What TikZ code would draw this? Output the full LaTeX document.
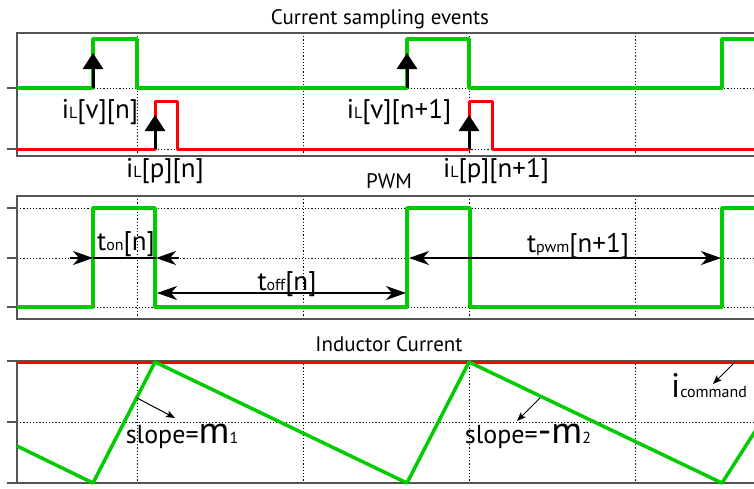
\documentclass[tikz,border=0pt]{standalone}
\usepackage{fontspec}
\setmainfont{PT Sans}
\usetikzlibrary{arrows.meta}
\definecolor{sigG}{RGB}{0,204,0}
\definecolor{sigR}{RGB}{255,0,0}
\definecolor{frameC}{RGB}{85,85,85}
\tikzset{
  frame/.style={draw=frameC, line width=1.2pt},
  tick/.style={draw=frameC, line width=1.2pt},
  gridln/.style={black, line width=0.8pt, dash pattern=on 1.2pt off 2pt},
  gsig/.style={sigG, line width=3.5pt, line join=round},
  rsig/.style={sigR, line width=3pt, line join=round},
  samp/.style={black, line width=3pt, -{Triangle[length=16pt,width=20pt]}},
  dimarr/.style={black, line width=1.2pt, -{Stealth[length=20pt,width=14pt,inset=6pt]}},
  dimboth/.style={black, line width=1.2pt, {Stealth[length=20pt,width=14pt,inset=6pt]}-{Stealth[length=20pt,width=14pt,inset=6pt]}},
  thinarr/.style={black, line width=1pt, -{Stealth[length=9pt,width=7pt,inset=2pt]}},
  ttl/.style={font=\fontsize{21}{21}\selectfont, anchor=base, inner sep=0pt},
  lbl/.style={font=\fontsize{27}{27}\selectfont, anchor=base, inner sep=0pt},
}
\newcommand{\smtxt}[1]{{\fontsize{16}{16}\selectfont #1}}
\newcommand{\bigtxt}[1]{{\fontsize{38}{38}\selectfont #1}}
\begin{document}
\begin{tikzpicture}[x=1pt,y=-1pt]
\clip (0,0) rectangle (754,488);
\fill[white] (0,0) rectangle (754,488);

% ---------- Panel 1 ----------
\node[ttl] (t1) at (380,24) {Current sampling events};
\foreach \x in {137,303,469,635} \draw[gridln] (\x,33) -- (\x,156);
\foreach \y in {88,149} {\draw[gridln] (17,\y) -- (770,\y); \draw[tick] (7,\y) -- (17,\y);}
\draw[frame] (17,33) rectangle (770,156);
\draw[gsig] (17,88) -- (93,88) -- (93,39) -- (137,39) -- (137,88) -- (407,88) -- (407,39) -- (469,39) -- (469,88) -- (722,88) -- (722,39) -- (770,39);
\draw[rsig] (17,149) -- (155,149) -- (155,101) -- (177,101) -- (177,149) -- (469,149) -- (469,101) -- (492,101) -- (492,149) -- (770,149);
\coordinate (s1a) at (93,88);  \coordinate (s1b) at (93,53);
\coordinate (s2a) at (155,149); \coordinate (s2b) at (155,115);
\coordinate (s3a) at (407,88); \coordinate (s3b) at (407,53);
\coordinate (s4a) at (469,149); \coordinate (s4b) at (469,115);
\draw[samp] (s1a) -- (s1b);
\draw[samp] (s2a) -- (s2b);
\draw[samp] (s3a) -- (s3b);
\draw[samp] (s4a) -- (s4b);
\node[lbl] (l1) at (100,118) {i\smtxt{L}[v][n]};
\node[lbl] (l2) at (399,118) {i\smtxt{L}[v][n+1]};
\node[lbl] (l3) at (165,177) {i\smtxt{L}[p][n]};
\node[lbl] (l4) at (496,177) {i\smtxt{L}[p][n+1]};

% ---------- Panel 2 ----------
\node[ttl] (t2) at (389,188) {PWM};
\foreach \x in {137,303,469,635} \draw[gridln] (\x,196) -- (\x,319);
\foreach \y in {208,258,307} {\draw[gridln] (17,\y) -- (770,\y); \draw[tick] (7,\y) -- (17,\y);}
\draw[frame] (17,196) rectangle (770,319);
\draw[gsig] (17,307) -- (93,307) -- (93,208) -- (155,208) -- (155,307) -- (407,307) -- (407,208) -- (470,208) -- (470,307) -- (722,307) -- (722,208) -- (770,208);
\coordinate (on0) at (70,258); \coordinate (on1) at (93,258);
\coordinate (on2) at (156,258); \coordinate (on3) at (179,258);
\draw[black, line width=1.2pt] (on1) -- (on2);
\draw[dimarr] (on0) -- (on1);
\draw[dimarr] (on3) -- (on2);
\coordinate (of1) at (157,293); \coordinate (of2) at (406,293);
\draw[dimboth] (of1) -- (of2);
\coordinate (pw1) at (409,258); \coordinate (pw2) at (721,258);
\draw[dimboth] (pw1) -- (pw2);
\node[lbl] (l5) at (126,250) {t\smtxt{on}[n]};
\node[lbl] (l6) at (287,290) {t\smtxt{off}[n]};
\node[lbl] (l7) at (578,252) {t\smtxt{pwm}[n+1]};

% ---------- Panel 3 ----------
\node[ttl] (t3) at (389,351) {Inductor Current};
\foreach \x in {137,303,469,635} \draw[gridln] (\x,361) -- (\x,483);
\draw[gridln] (17,422) -- (770,422);
\foreach \y in {361,422,483} \draw[tick] (7,\y) -- (17,\y);
\draw[frame] (17,361) rectangle (770,483);
\draw[sigR, line width=2.5pt] (17,362.5) -- (770,362.5);
\draw[gsig] (17,446) -- (93,483) -- (155,362) -- (407,483) -- (469,362) -- (722,483) -- (770,408);
\coordinate (m1a) at (137,398); \coordinate (m1b) at (175,418);
\coordinate (m2a) at (540,398); \coordinate (m2b) at (517,421);
\coordinate (ica) at (735,362); \coordinate (icb) at (713,384);
\draw[thinarr] (m1a) -- (m1b);
\draw[thinarr] (m2a) -- (m2b);
\draw[thinarr] (ica) -- (icb);
\node[lbl, font=\fontsize{26}{26}\selectfont] (l8) at (182,443) {slope=\bigtxt{m}\smtxt{1}};
\node[lbl, font=\fontsize{26}{26}\selectfont] (l9) at (528,443) {slope=\bigtxt{-m}\smtxt{2}};
\node[lbl, anchor=base west] (l10) at (671,397) {\fontsize{34}{34}\selectfont i\smtxt{command}};
\end{tikzpicture}
\end{document}
